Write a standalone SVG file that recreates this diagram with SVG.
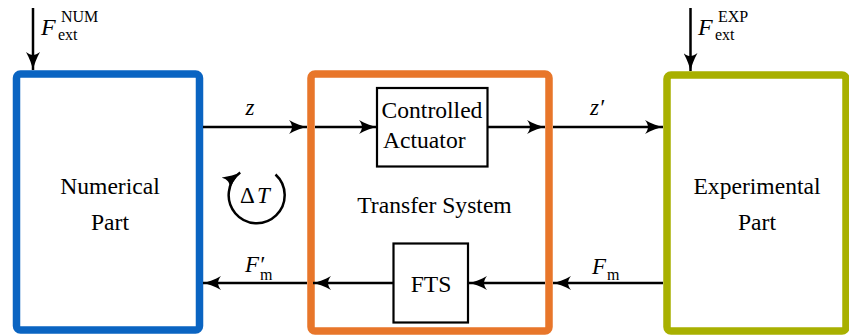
<svg xmlns="http://www.w3.org/2000/svg" width="849" height="335" viewBox="0 0 849 335">
<style>
.c{fill:none;stroke:#000;stroke-width:2.5}
.box{fill:#fff;stroke:#000;stroke-width:2.2}
</style>
<defs>
<marker id="ah" viewBox="0 0 18 14" refX="18" refY="7" markerWidth="18" markerHeight="14" markerUnits="userSpaceOnUse" orient="auto">
<path d="M18,7 C13,8 6,10.5 0,14 C2,11.5 3,9 3,7 C3,5 2,2.5 0,0 C6,3.5 13,6 18,7 Z" fill="#000"/>
</marker>
</defs>
<g id="numerical">
<rect x="16.5" y="74" width="183" height="256" rx="4" fill="none" stroke="#0a64c2" stroke-width="7.5"/>
<text x="110" y="194" text-anchor="middle" font-family="Liberation Serif, serif" font-size="23.6">Numerical</text>
<text x="110" y="230" text-anchor="middle" font-family="Liberation Serif, serif" font-size="23.6">Part</text>
</g>
<g id="transfer">
<rect x="311" y="74" width="238" height="257" rx="4" fill="none" stroke="#e8762a" stroke-width="7.5"/>
<text x="434.5" y="213" text-anchor="middle" font-family="Liberation Serif, serif" font-size="23.6">Transfer System</text>
</g>
<g id="experimental">
<rect x="667" y="75" width="179" height="256" rx="4" fill="none" stroke="#a8b000" stroke-width="7.5"/>
<text x="757" y="194" text-anchor="middle" font-family="Liberation Serif, serif" font-size="23.6">Experimental</text>
<text x="757" y="230" text-anchor="middle" font-family="Liberation Serif, serif" font-size="23.6">Part</text>
</g>
<g id="actuator">
<rect class="box" x="377" y="88" width="110.5" height="78.5"/>
<text x="381.5" y="118" font-family="Liberation Serif, serif" font-size="23.6">Controlled</text>
<text x="383" y="148" font-family="Liberation Serif, serif" font-size="23.6">Actuator</text>
</g>
<g id="fts">
<rect class="box" x="393.5" y="243.5" width="74.5" height="79"/>
<text x="431" y="292" text-anchor="middle" font-family="Liberation Serif, serif" font-size="23.6">FTS</text>
</g>
<g id="connectors">
<line class="c" x1="33" y1="8" x2="33" y2="70" marker-end="url(#ah)"/>
<line class="c" x1="690.5" y1="8" x2="690.5" y2="71" marker-end="url(#ah)"/>
<line class="c" x1="203" y1="127" x2="307" y2="127" marker-end="url(#ah)"/>
<line class="c" x1="315" y1="127" x2="377" y2="127" marker-end="url(#ah)"/>
<line class="c" x1="488" y1="127" x2="545" y2="127" marker-end="url(#ah)"/>
<line class="c" x1="553" y1="127" x2="663" y2="127" marker-end="url(#ah)"/>
<line class="c" x1="663" y1="283" x2="553" y2="283" marker-end="url(#ah)"/>
<line class="c" x1="545" y1="283" x2="469" y2="283" marker-end="url(#ah)"/>
<line class="c" x1="393" y1="283" x2="313" y2="283" marker-end="url(#ah)"/>
<line class="c" x1="307" y1="283" x2="203" y2="283" marker-end="url(#ah)"/>
<path class="c" d="M275.5,174.5 A28,28 0 1 1 240.2,172.6" marker-end="url(#ah)"/>
</g>
<g id="labels" font-family="Liberation Serif, serif">
<text x="41" y="35" font-style="italic" font-size="24">F</text>
<text x="61" y="22" font-size="16">NUM</text>
<text x="58" y="40" font-size="16">ext</text>
<text x="698" y="35" font-style="italic" font-size="24">F</text>
<text x="718" y="22" font-size="16">EXP</text>
<text x="715" y="40" font-size="16">ext</text>
<text x="250" y="115" text-anchor="middle" font-style="italic" font-size="23">z</text>
<text x="597" y="115" text-anchor="middle" font-style="italic" font-size="23">z′</text>
<text x="245" y="272" font-style="italic" font-size="23">F′</text>
<text x="260" y="280" font-size="16">m</text>
<text x="592" y="274" font-style="italic" font-size="23">F</text>
<text x="607" y="280" font-size="16">m</text>
<text x="240" y="203" font-size="23">Δ</text>
<text x="257" y="203" font-style="italic" font-size="23">T</text>
</g>
</svg>
